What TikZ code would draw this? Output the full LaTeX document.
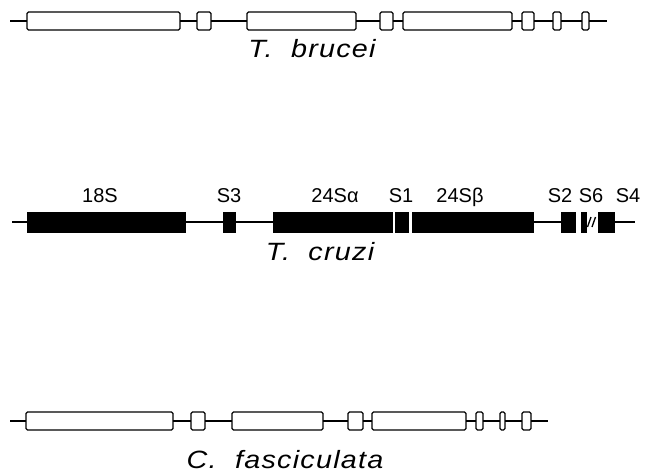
\documentclass[tikz,border=0pt]{standalone}
\usepackage{fontspec}
\newfontfamily\lblfont{Liberation Sans}
\newfontfamily\spfont[FakeStretch=1.15,LetterSpace=5]{Liberation Sans}
\newcommand\gbox[5]{\node[#5, minimum width={(#3-#2)*1pt}] (#1) at ({(#2+#3)/2},#4) {};}
\begin{document}
\begin{tikzpicture}[x=1pt,y=-1pt,
  ln/.style={line width=1.3pt,black},
  wbox/.style={draw=black,line width=1.2pt,fill=white,rounded corners=1.5pt,inner sep=0pt,outer sep=0pt,minimum height=18pt},
  bbox/.style={draw=black,line width=0.6pt,fill=black,inner sep=0pt,outer sep=0pt,minimum height=20pt},
  lbl/.style={font=\lblfont\fontsize{20}{24}\selectfont,anchor=base,inner sep=0pt},
  sp/.style={font=\spfont\itshape\fontsize{25}{30}\selectfont,anchor=base,inner sep=0pt}]
\useasboundingbox[fill=white] (0,0) rectangle (647,475);
% ---- T. brucei ----
\coordinate (bs) at (10,21);
\coordinate (be) at (607,21);
\gbox{b1}{27}{180}{21}{wbox}
\gbox{b2}{197}{211}{21}{wbox}
\gbox{b3}{247}{356}{21}{wbox}
\gbox{b4}{380}{393}{21}{wbox}
\gbox{b5}{403}{512}{21}{wbox}
\gbox{b6}{522}{534}{21}{wbox}
\gbox{b7}{553}{561}{21}{wbox}
\gbox{b8}{582}{589}{21}{wbox}
\draw[ln] (bs) -- (b1.west) (b1.east) -- (b2.west) (b2.east) -- (b3.west)
  (b3.east) -- (b4.west) (b4.east) -- (b5.west) (b5.east) -- (b6.west)
  (b6.east) -- (b7.west) (b7.east) -- (b8.west) (b8.east) -- (be);
\node[sp] (tb) at (312,57) {T.\ \ brucei};
% ---- T. cruzi ----
\coordinate (cs) at (12,222);
\coordinate (ce) at (635,222);
\gbox{c1}{27}{185}{222}{bbox}
\gbox{c2}{223}{235}{222}{bbox}
\gbox{c3}{273}{392}{222}{bbox}
\gbox{c4}{395}{408}{222}{bbox}
\gbox{c5}{412}{533}{222}{bbox}
\gbox{c6}{561}{575}{222}{bbox}
\gbox{c7}{581}{586}{222}{bbox}
\gbox{c8}{598}{614}{222}{bbox}
\draw[ln] (cs) -- (c1.west) (c1.east) -- (c2.west) (c2.east) -- (c3.west)
  (c5.east) -- (c6.west) (c8.east) -- (ce);
\draw[line width=1.3pt] ([xshift=1.5pt,yshift=-5pt]c7.east) -- ([xshift=5pt,yshift=5pt]c7.east)
  ([xshift=6pt,yshift=-5pt]c7.east) -- ([xshift=9.5pt,yshift=5pt]c7.east);
\node[lbl] (l1) at (100,202) {18S};
\node[lbl] (l2) at (229,202) {S3};
\node[lbl] (l3) at (335,202) {24Sα};
\node[lbl] (l4) at (401,202) {S1};
\node[lbl] (l5) at (460,202) {24Sβ};
\node[lbl] (l6) at (560,202) {S2};
\node[lbl] (l7) at (591,202) {S6};
\node[lbl] (l8) at (628,202) {S4};
\node[sp] (tc) at (320,260) {T.\ \ cruzi};
% ---- C. fasciculata ----
\coordinate (fs) at (10,421);
\coordinate (fe) at (548,421);
\gbox{f1}{26}{173}{421}{wbox}
\gbox{f2}{191}{205}{421}{wbox}
\gbox{f3}{232}{323}{421}{wbox}
\gbox{f4}{348}{363}{421}{wbox}
\gbox{f5}{372}{466}{421}{wbox}
\gbox{f6}{476}{483}{421}{wbox}
\gbox{f7}{500}{505}{421}{wbox}
\gbox{f8}{522}{531}{421}{wbox}
\draw[ln] (fs) -- (f1.west) (f1.east) -- (f2.west) (f2.east) -- (f3.west)
  (f3.east) -- (f4.west) (f4.east) -- (f5.west) (f5.east) -- (f6.west)
  (f6.east) -- (f7.west) (f7.east) -- (f8.west) (f8.east) -- (fe);
\node[sp] (tf) at (285,468) {C.\ \ fasciculata};
\end{tikzpicture}
\end{document}
